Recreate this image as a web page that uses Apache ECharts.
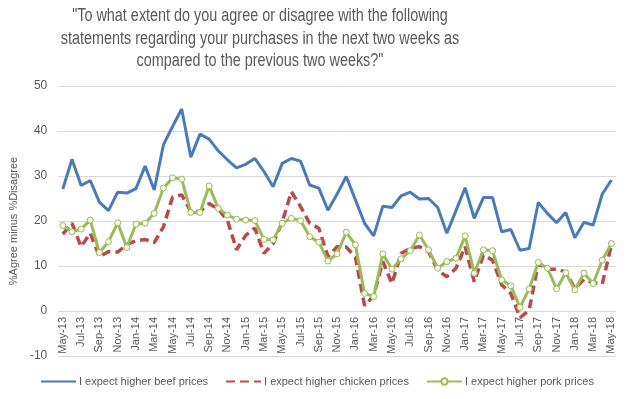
<!DOCTYPE html>
<html><head><meta charset="utf-8">
<script src="https://cdn.jsdelivr.net/npm/echarts@6/dist/echarts.min.js"></script>
<style>html,body{margin:0;padding:0;background:#fff}#c{width:626px;height:399px}</style>
</head><body><div id="c"></div>
<script>
const months = ["May-13","Jun-13","Jul-13","Aug-13","Sep-13","Oct-13","Nov-13","Dec-13",
"Jan-14","Feb-14","Mar-14","Apr-14","May-14","Jun-14","Jul-14","Aug-14","Sep-14","Oct-14","Nov-14","Dec-14",
"Jan-15","Feb-15","Mar-15","Apr-15","May-15","Jun-15","Jul-15","Aug-15","Sep-15","Oct-15","Nov-15","Dec-15",
"Jan-16","Feb-16","Mar-16","Apr-16","May-16","Jun-16","Jul-16","Aug-16","Sep-16","Oct-16","Nov-16","Dec-16",
"Jan-17","Feb-17","Mar-17","Apr-17","May-17","Jun-17","Jul-17","Aug-17","Sep-17","Oct-17","Nov-17","Dec-17",
"Jan-18","Feb-18","Mar-18","Apr-18","May-18"];
const beef = [27.1,33.7,27.9,29,24.2,22.3,26.4,26.2,27.2,32.2,26.9,36.9,41,44.9,34.2,39.3,38.2,35.6,33.6,31.8,
32.6,33.9,31,27.6,32.8,33.9,33.3,28,27.3,22.4,26,29.9,24.7,19.5,16.7,23.3,23,25.6,26.4,24.9,
25,23,17.3,22.3,27.4,20.6,25.2,25.2,17.6,18.1,13.5,13.9,24.1,21.7,19.6,21.9,16.3,19.7,19.1,26,29.1];
const chicken = [17.1,19.5,14.3,17.3,12.1,13.2,13.1,14.8,15.6,15.9,15.2,18.7,25.3,25.8,22.1,22.1,23.9,22.6,20.2,13.6,
16.8,18.4,12.8,15,19.8,26.5,23.2,19.5,18.4,12.1,14.3,14.2,12,1.2,3.4,11,6.1,12.8,13.9,14.3,
13.2,9.1,7.6,9.5,14.3,6.5,12.4,11.3,5.8,3.9,-1.5,0.2,10.6,9.3,9.3,8.7,5,7,6.3,6,14.7];
const pork = [19,17.6,18.2,20.2,13,15.4,19.6,14.1,19.3,19.5,21.7,27.3,29.6,29.3,21.9,21.9,27.8,22.8,21.3,20.4,
20.2,20.1,15.9,15.8,19.5,20.6,20.1,16.5,15.3,11.1,12.7,17.5,14.7,3.9,3.2,12.7,9.3,11.6,13.4,16.9,
13.6,9.5,11,11.7,16.7,8.4,13.6,13.4,6.9,5.6,0.8,4.9,10.8,9.5,4.9,8.5,4.7,8.4,6.1,11.3,15];
const seriesNames = ["I expect higher beef prices","I expect higher chicken prices","I expect higher pork prices"];
const yTicks = {min:-10, max:50, interval:10};
const titleText = '"To what extent do you agree or disagree with the following\nstatements regarding your purchases in the next two weeks as\ncompared to the previous two weeks?"';

const FONT = '"Liberation Sans", Arial, sans-serif';
const chart = echarts.init(document.getElementById('c'), null, {renderer:'canvas'});
chart.setOption({
  animation:false,
  backgroundColor:'#fff',
  graphic:[{type:'text', x:260, y:5, scaleX:0.8, scaleY:1, style:{text:titleText, align:'center', verticalAlign:'top',
    font:'18px "Liberation Sans", Arial, sans-serif', fill:'#595959', lineHeight:22.5}}],
  grid:{left:55, right:10, top:86, bottom:43, containLabel:false},
  legend:{top:376, left:40, padding:0, itemWidth:35, itemHeight:8, itemGap:17,
    textStyle:{fontFamily:FONT, fontSize:11, color:'#595959', padding:[0,0,0,-2]},
    data:[{name:seriesNames[0], itemStyle:{opacity:0}},
          {name:seriesNames[1], itemStyle:{opacity:0}},
          {name:seriesNames[2]}]},
  xAxis:{type:'category', data:months, boundaryGap:true,
    axisLine:{show:false, onZero:false},
    axisTick:{show:false},
    axisLabel:{interval:1, rotate:90, fontFamily:FONT, fontSize:11, color:'#595959', margin:-39}},
  yAxis:{type:'value', min:yTicks.min, max:yTicks.max, interval:yTicks.interval,
    name:'%Agree minus %Disagree', nameLocation:'middle', nameGap:28, nameRotate:90,
    nameTextStyle:{fontFamily:FONT, fontSize:11, color:'#595959'},
    axisLine:{show:false}, axisTick:{show:false},
    axisLabel:{fontFamily:FONT, fontSize:12, color:'#595959', margin:11},
    splitLine:{lineStyle:{color:'#d9d9d9', width:1}}},
  series:[
    {name:seriesNames[0], type:'line', data:beef, symbol:'none',
      lineStyle:{color:'#4a7ab8', width:3}, itemStyle:{color:'#4a7ab8'}},
    {name:seriesNames[1], type:'line', data:chicken, symbol:'none',
      lineStyle:{color:'#b94a4c', width:3.5, type:[9,5]}, itemStyle:{color:'#b94a4c'}},
    {name:seriesNames[2], type:'line', data:pork, symbol:'circle', symbolSize:6,
      lineStyle:{color:'#9bbb59', width:3}, itemStyle:{color:'#f4f8ea', borderColor:'#9bbb59', borderWidth:1}}
  ]
});
</script></body></html>
